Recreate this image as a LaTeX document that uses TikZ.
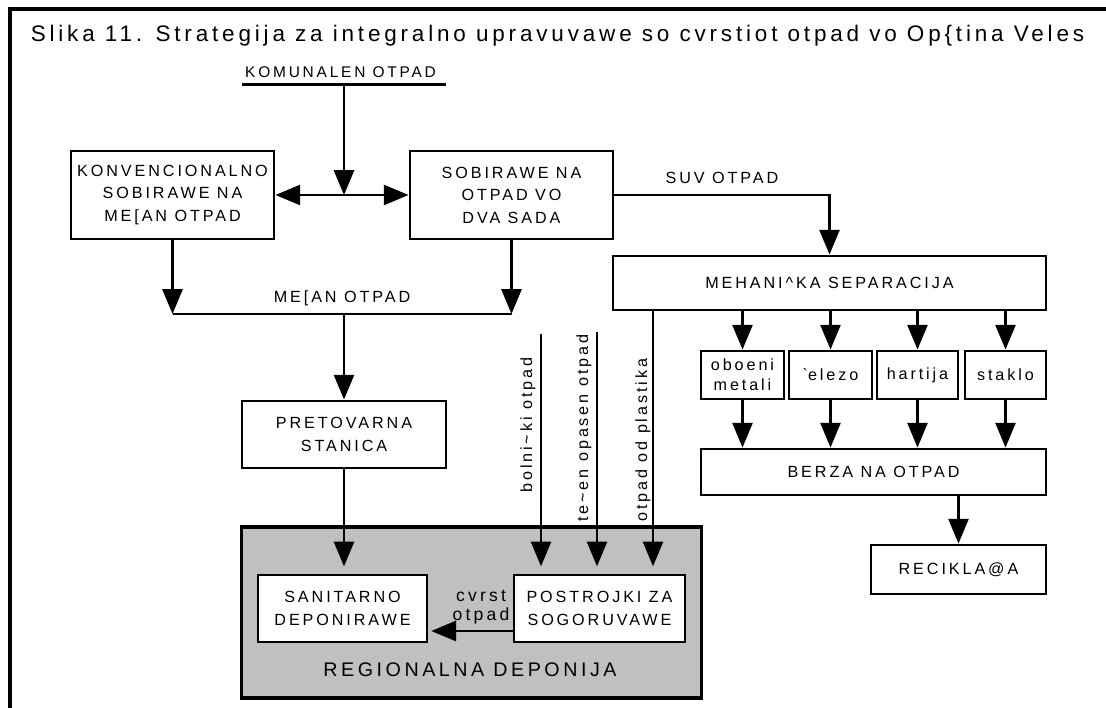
\documentclass[tikz,border=0pt]{standalone}
\usepackage{fontspec}
\setmainfont{Liberation Sans}
\newfontfamily\spacedfont[LetterSpace=18]{Liberation Sans}
\newfontfamily\titlefont[LetterSpace=17]{Liberation Sans}
\usetikzlibrary{arrows.meta}

\tikzset{
  wbox/.style={shape=rectangle,draw,fill=white,line width=2pt,inner sep=0pt,align=center,
    font=\spacedfont\fontsize{11.5}{16}\selectfont},
  lbl/.style={inner sep=0pt,align=center,font=\spacedfont\fontsize{11.5}{16}\selectfont},
  flow/.style={line width=1.9pt}
}

\begin{document}
\begin{tikzpicture}[x=0.025cm,y=-0.025cm,>={Triangle[length=0.62cm,width=0.5cm]}]
\definecolor{deponija_bg}{RGB}{192,192,192}
\useasboundingbox (0,0) rectangle (1106,708);
\draw[line width=2.8pt] (10,708) to (10,9) to (1106,9);

\node[lbl,font=\titlefont\fontsize{16}{18}\selectfont] (title) at (557.5,36) {Slika 11. Strategija za integralno upravuvawe so cvrstiot otpad vo Op\{tina Veles};

\node[lbl,font=\spacedfont\fontsize{11}{16}\selectfont] (komunalen) at (340.5,72) {KOMUNALEN OTPAD};
\coordinate (kom_l) at (242,84.6);
\coordinate (kom_r) at (446,84.6);
\coordinate (kom_in) at (344,84.6);
\draw[flow] (kom_l) to (kom_r);

\node[wbox,minimum width=5.075cm,minimum height=2.2cm] (konv) at (172.5,195) {KONVENCIONALNO\\SOBIRAWE NA\\ME[AN OTPAD};
\node[wbox,minimum width=5.075cm,minimum height=2.2cm] (sob) at (511.5,195) {SOBIRAWE NA\\OTPAD VO\\DVA SADA};
\draw[flow,<->] (konv) to (sob);
\draw[flow,->] (kom_in) to (kom_in |- konv.east);

\coordinate (mesan) at (344,314);
\draw[flow,->] (konv.south) to (konv.south |- mesan);
\draw[flow,->] (sob.south) to (sob.south |- mesan);
\draw[flow] (konv.south |- mesan) to node[lbl,above=0.17cm] {ME[AN OTPAD} (sob.south |- mesan);

\node[wbox,minimum width=5.1cm,minimum height=1.675cm] (pret) at (344,434.5) {PRETOVARNA\\STANICA};
\draw[flow,->] (mesan) to (pret);

\node[shape=rectangle,draw,fill=deponija_bg,line width=2.2pt,minimum width=11.475cm,minimum height=4.275cm] (region) at (471.5,612.5) {};
\node[lbl,font=\spacedfont\fontsize{14}{16}\selectfont] (regionlbl) at (470,670) {REGIONALNA DEPONIJA};
\node[wbox,minimum width=4.225cm,minimum height=1.675cm] (sanit) at (342.5,608.5) {SANITARNO\\DEPONIRAWE};
\node[wbox,minimum width=4.275cm,minimum height=1.675cm] (post) at (599.5,608.5) {POSTROJKI ZA\\SOGORUVAWE};
\draw[flow,->,shorten >=0.18cm] (pret.south) to (pret.south |- sanit.north);
\draw[flow,->,shorten >=0.07cm] ([yshift=-0.5625cm]post.west) to ([yshift=-0.5625cm]sanit.east);
\node[lbl,font=\spacedfont\fontsize{12.5}{13.5}\selectfont] (cvrst) at (481,607) {cvrst\\otpad};

\node[wbox,minimum width=10.825cm,minimum height=1.35cm] (meh) at (829.5,283) {MEHANI\textasciicircum KA SEPARACIJA};
\draw[flow,->] (sob.east) -| node[lbl,pos=0.25,above=0.25cm] {SUV OTPAD} (meh.north);

\coordinate (bolni) at (541,334);
\coordinate (tecen) at (597,332);
\coordinate (plast) at (653,310);
\draw[flow,->,shorten >=0.18cm] (bolni) to (bolni |- post.north);
\draw[flow,->,shorten >=0.18cm] (tecen) to (tecen |- post.north);
\draw[flow,->,shorten >=0.18cm] (plast) to (plast |- post.north);
\node[lbl,rotate=90,anchor=west] (bolnilbl) at (528,493) {bolni\textasciitilde ki otpad};
\node[lbl,rotate=90,anchor=west] (tecenlbl) at (584,522) {te\textasciitilde en opasen otpad};
\node[lbl,rotate=90,anchor=west] (plastlbl) at (643,522) {otpad od plastika};

\node[wbox,minimum width=2.075cm,minimum height=1.2cm,font=\spacedfont\fontsize{11.5}{14}\selectfont] (oboeni) at (742.5,375) {oboeni\\metali};
\node[wbox,minimum width=2.075cm,minimum height=1.2cm] (zelezo) at (830.5,375) {\textasciigrave elezo};
\node[wbox,minimum width=2.025cm,minimum height=1.2cm] (hartija) at (917.5,375) {hartija};
\node[wbox,minimum width=2.025cm,minimum height=1.2cm] (staklo) at (1005.5,375) {staklo};
\draw[flow,->] (oboeni.north |- meh.south) to (oboeni.north);
\draw[flow,->] (zelezo.north |- meh.south) to (zelezo.north);
\draw[flow,->] (hartija.north |- meh.south) to (hartija.north);
\draw[flow,->] (staklo.north |- meh.south) to (staklo.north);

\node[wbox,minimum width=8.625cm,minimum height=1.15cm] (berza) at (873.5,472) {BERZA NA OTPAD};
\draw[flow,->] (oboeni.south) to (oboeni.south |- berza.north);
\draw[flow,->] (zelezo.south) to (zelezo.south |- berza.north);
\draw[flow,->] (hartija.south) to (hartija.south |- berza.north);
\draw[flow,->] (staklo.south) to (staklo.south |- berza.north);

\node[wbox,minimum width=4.375cm,minimum height=1.225cm] (reciklaza) at (958.5,569.5) {RECIKLA@A};
\draw[flow,->] (reciklaza.north |- berza.south) to (reciklaza.north);
\end{tikzpicture}
\end{document}
